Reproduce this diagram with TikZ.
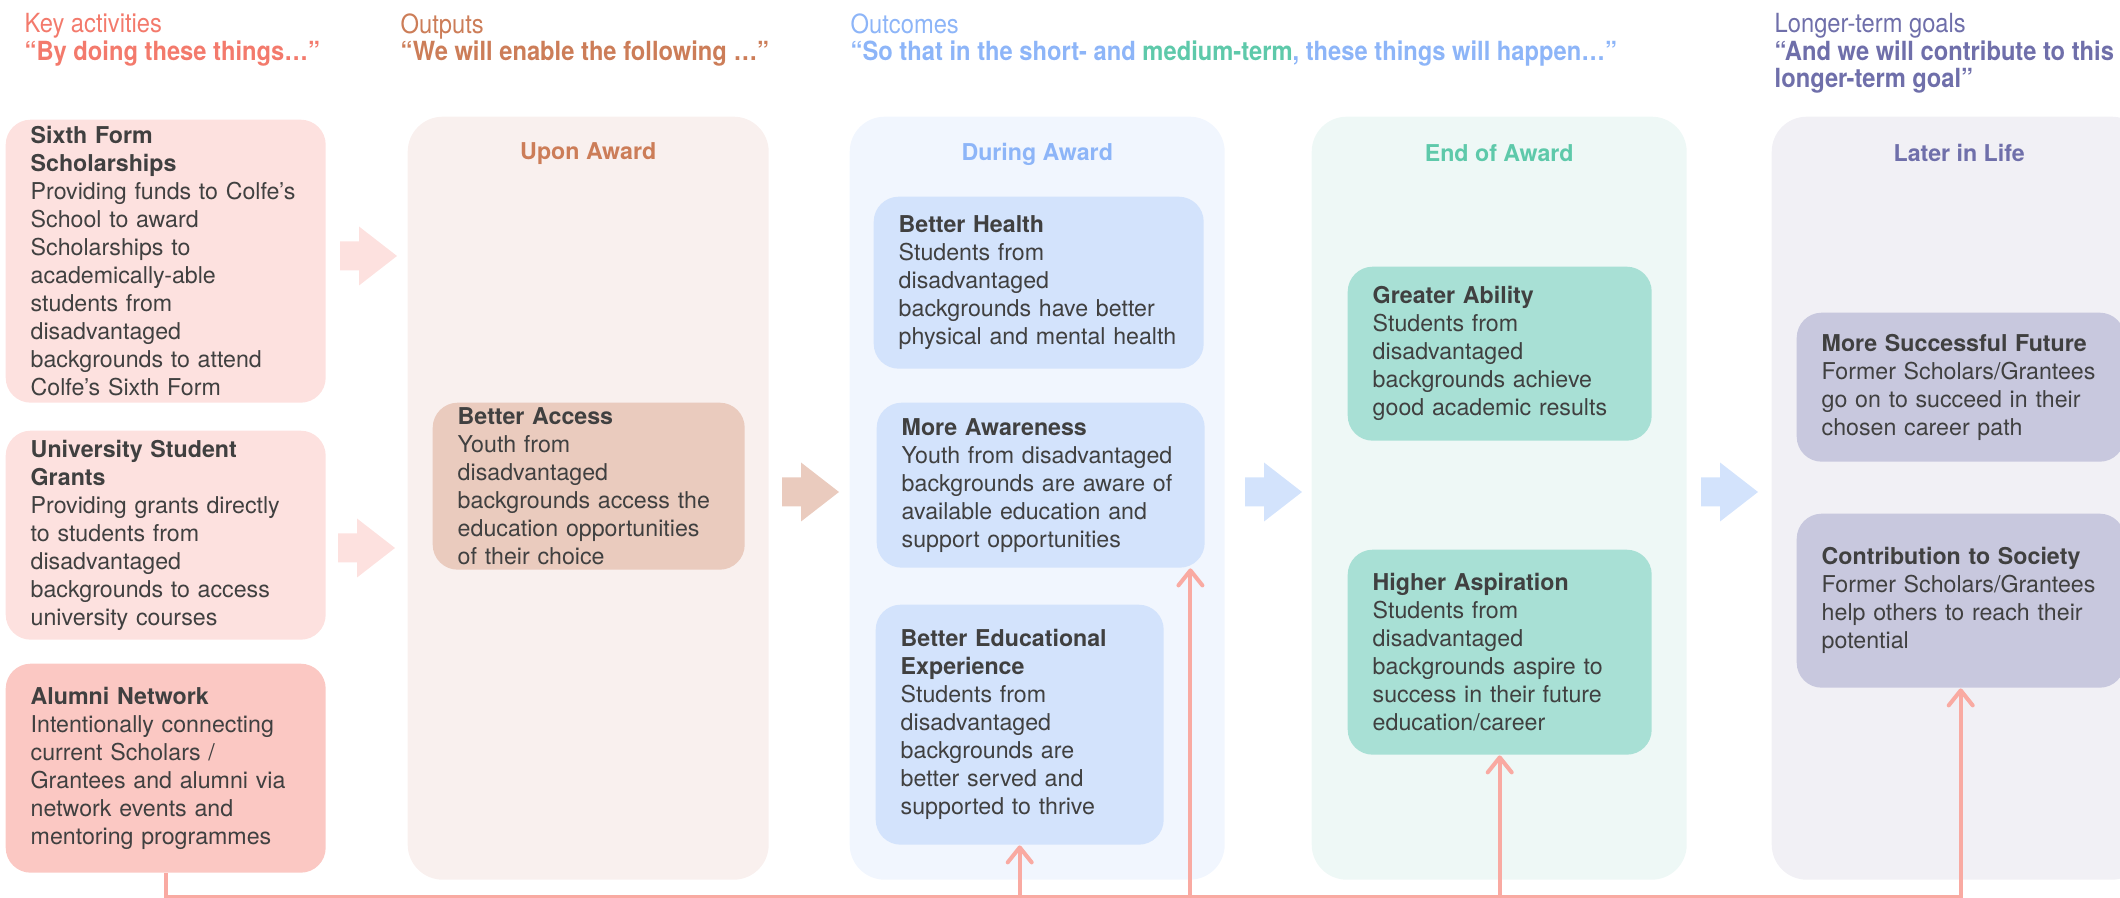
\documentclass[tikz,border=0pt]{standalone}
\usepackage{fontspec}
\setmainfont{TeX Gyre Heros}
\newfontfamily\headfont[FakeStretch=0.9]{TeX Gyre Heros}
\usepackage{tikz}
\usetikzlibrary{calc}
\usetikzlibrary{positioning}
\usetikzlibrary{arrows.meta}
\definecolor{inkgray}{RGB}{64, 64, 64}
\definecolor{keyred}{RGB}{243, 122, 108}
\definecolor{outtan}{RGB}{204, 125, 88}
\definecolor{outblue}{RGB}{141, 181, 248}
\definecolor{outgreen}{RGB}{94, 201, 170}
\definecolor{goalpurple}{RGB}{111, 111, 170}
\definecolor{actpink}{RGB}{253, 225, 223}
\definecolor{alumpink}{RGB}{251, 200, 195}
\definecolor{uponbg}{RGB}{249, 240, 238}
\definecolor{uponcard}{RGB}{234, 203, 190}
\definecolor{durbg}{RGB}{241, 246, 254}
\definecolor{durcard}{RGB}{211, 227, 252}
\definecolor{endbg}{RGB}{238, 248, 246}
\definecolor{endcard}{RGB}{168, 224, 213}
\definecolor{latbg}{RGB}{241, 240, 245}
\definecolor{latcard}{RGB}{200, 200, 222}
\definecolor{linkpink}{RGB}{249, 170, 162}
\newcommand{\cardfont}{\fontsize{6.6}{7.97}\selectfont}
\newcommand{\headsize}{\headfont\fontsize{7.5}{7.8}\selectfont}
\tikzset{
  head/.style={anchor=north west, inner sep=0pt, align=left, font=\headsize},
  panel/.style={anchor=north west, rounded corners=3.5mm, inner sep=0pt, minimum height=76.3mm},
  ptitle/.style={inner sep=0pt, font=\cardfont\bfseries},
  card/.style={anchor=north west, rounded corners=2.5mm, inner xsep=2.5mm, inner ysep=0pt, align=left, text=inkgray, font=\cardfont},
  link/.style={draw=linkpink, line width=0.4mm, -{Straight Barb[length=1.5mm,width=2.4mm,round]}},
  bigarrow/.pic={\fill[pic actions] (0,-14.5) -- (19,-14.5) -- (19,-29.5) -- (57,0) -- (19,29.5) -- (19,14.5) -- (0,14.5) -- cycle;}
}

\begin{document}
\begin{tikzpicture}[x=0.1mm, y=-0.1mm]
  \useasboundingbox (0,0) rectangle (2120,898);
  \clip (0,0) rectangle (2120,898);

  % column headings
  \node[head, text=keyred]     (hkey)  at (24,13)   {Key activities\\\textbf{“By doing these things…”}};
  \node[head, text=outtan]     (hout)  at (400,13)  {Outputs\\\textbf{“We will enable the following …”}};
  \node[head, text=outblue]    (hcome) at (850,13)  {Outcomes\\\textbf{“So that in the short- and \textcolor{outgreen}{medium-term}, these things will happen…”}};
  \node[head, text=goalpurple] (hgoal) at (1774,13) {Longer-term goals\\\textbf{“And we will contribute to this}\\\textbf{longer-term goal”}};

  % stage panels
  \node[panel, fill=uponbg, minimum width=36.1mm] (upon)   at (407,116)  {};
  \node[panel, fill=durbg,  minimum width=37.5mm] (during) at (849,116)  {};
  \node[panel, fill=endbg,  minimum width=37.5mm] (endaw)  at (1311,116) {};
  \node[panel, fill=latbg,  minimum width=37.5mm] (later)  at (1771,116) {};
  \node[ptitle, text=outtan]     at ($(upon.north)+(0,38)$)   {Upon Award};
  \node[ptitle, text=outblue]    at ($(during.north)+(0,38)$) {During Award};
  \node[ptitle, text=outgreen]   at ($(endaw.north)+(0,37)$)  {End of Award};
  \node[ptitle, text=goalpurple] at ($(later.north)+(0,37)$)  {Later in Life};

  % key activities
  \node[card, fill=actpink, text width=27mm, minimum height=28.3mm] (sixth) at (5,119)
    {\textbf{Sixth Form}\\\textbf{Scholarships}\\Providing funds to Colfe’s\\School to award\\Scholarships to\\academically-able\\students from\\disadvantaged\\backgrounds to attend\\Colfe’s Sixth Form};
  \node[card, fill=actpink, text width=27mm, minimum height=20.9mm] (univ) at (5,430)
    {\textbf{University Student}\\\textbf{Grants}\\Providing grants directly\\to students from\\disadvantaged\\backgrounds to access\\university courses};
  \node[card, fill=alumpink, text width=27mm, minimum height=20.9mm] (alumni) at (5,663)
    {\textbf{Alumni Network}\\Intentionally connecting\\current Scholars /\\Grantees and alumni via\\network events and\\mentoring programmes};

  % outputs and outcomes
  \node[card, fill=uponcard, text width=26.2mm, minimum height=16.7mm] (access) at (432,402)
    {\textbf{Better Access}\\Youth from\\disadvantaged\\backgrounds access the\\education opportunities\\of their choice};
  \node[card, fill=durcard, text width=28mm, minimum height=17.2mm] (health) at (873,196)
    {\textbf{Better Health}\\Students from\\disadvantaged\\backgrounds have better\\physical and mental health};
  \node[card, fill=durcard, text width=27.8mm, minimum height=16.5mm] (aware) at (876,402)
    {\textbf{More Awareness}\\Youth from disadvantaged\\backgrounds are aware of\\available education and\\support opportunities};
  \node[card, fill=durcard, text width=23.8mm, minimum height=24mm] (eduexp) at (875,604)
    {\textbf{Better Educational}\\\textbf{Experience}\\Students from\\disadvantaged\\backgrounds are\\better served and\\supported to thrive};
  \node[card, fill=endcard, text width=25.4mm, minimum height=17.4mm] (ability) at (1347,266)
    {\textbf{Greater Ability}\\Students from\\disadvantaged\\backgrounds achieve\\good academic results};
  \node[card, fill=endcard, text width=25.4mm, minimum height=20.5mm] (aspire) at (1347,549)
    {\textbf{Higher Aspiration}\\Students from\\disadvantaged\\backgrounds aspire to\\success in their future\\education/career};
  \node[card, fill=latcard, text width=27.8mm, minimum height=14.9mm] (future) at (1796,312)
    {\textbf{More Successful Future}\\Former Scholars/Grantees\\go on to succeed in their\\chosen career path};
  \node[card, fill=latcard, text width=27.8mm, minimum height=17.4mm] (society) at (1796,513)
    {\textbf{Contribution to Society}\\Former Scholars/Grantees\\help others to reach their\\potential};

  % block arrows between columns
  \pic[fill=actpink]  at (340,256)  {bigarrow};
  \pic[fill=actpink]  at (338,548)  {bigarrow};
  \pic[fill=uponcard] at (782,492)  {bigarrow};
  \pic[fill=durcard]  at (1245,492) {bigarrow};
  \pic[fill=durcard]  at (1701,492) {bigarrow};

  % alumni network feeds
  \coordinate (bus) at (0,897);
  \coordinate (awaretap) at ($(aware.south east)+(-15,0)$);
  \draw[link] (alumni.south) |- (society.south |- bus) -- (society.south);
  \draw[link] (eduexp.south |- bus) -- (eduexp.south);
  \draw[link] (awaretap |- bus) -- (awaretap);
  \draw[link] (aspire.south |- bus) -- (aspire.south);
\end{tikzpicture}
\end{document}
